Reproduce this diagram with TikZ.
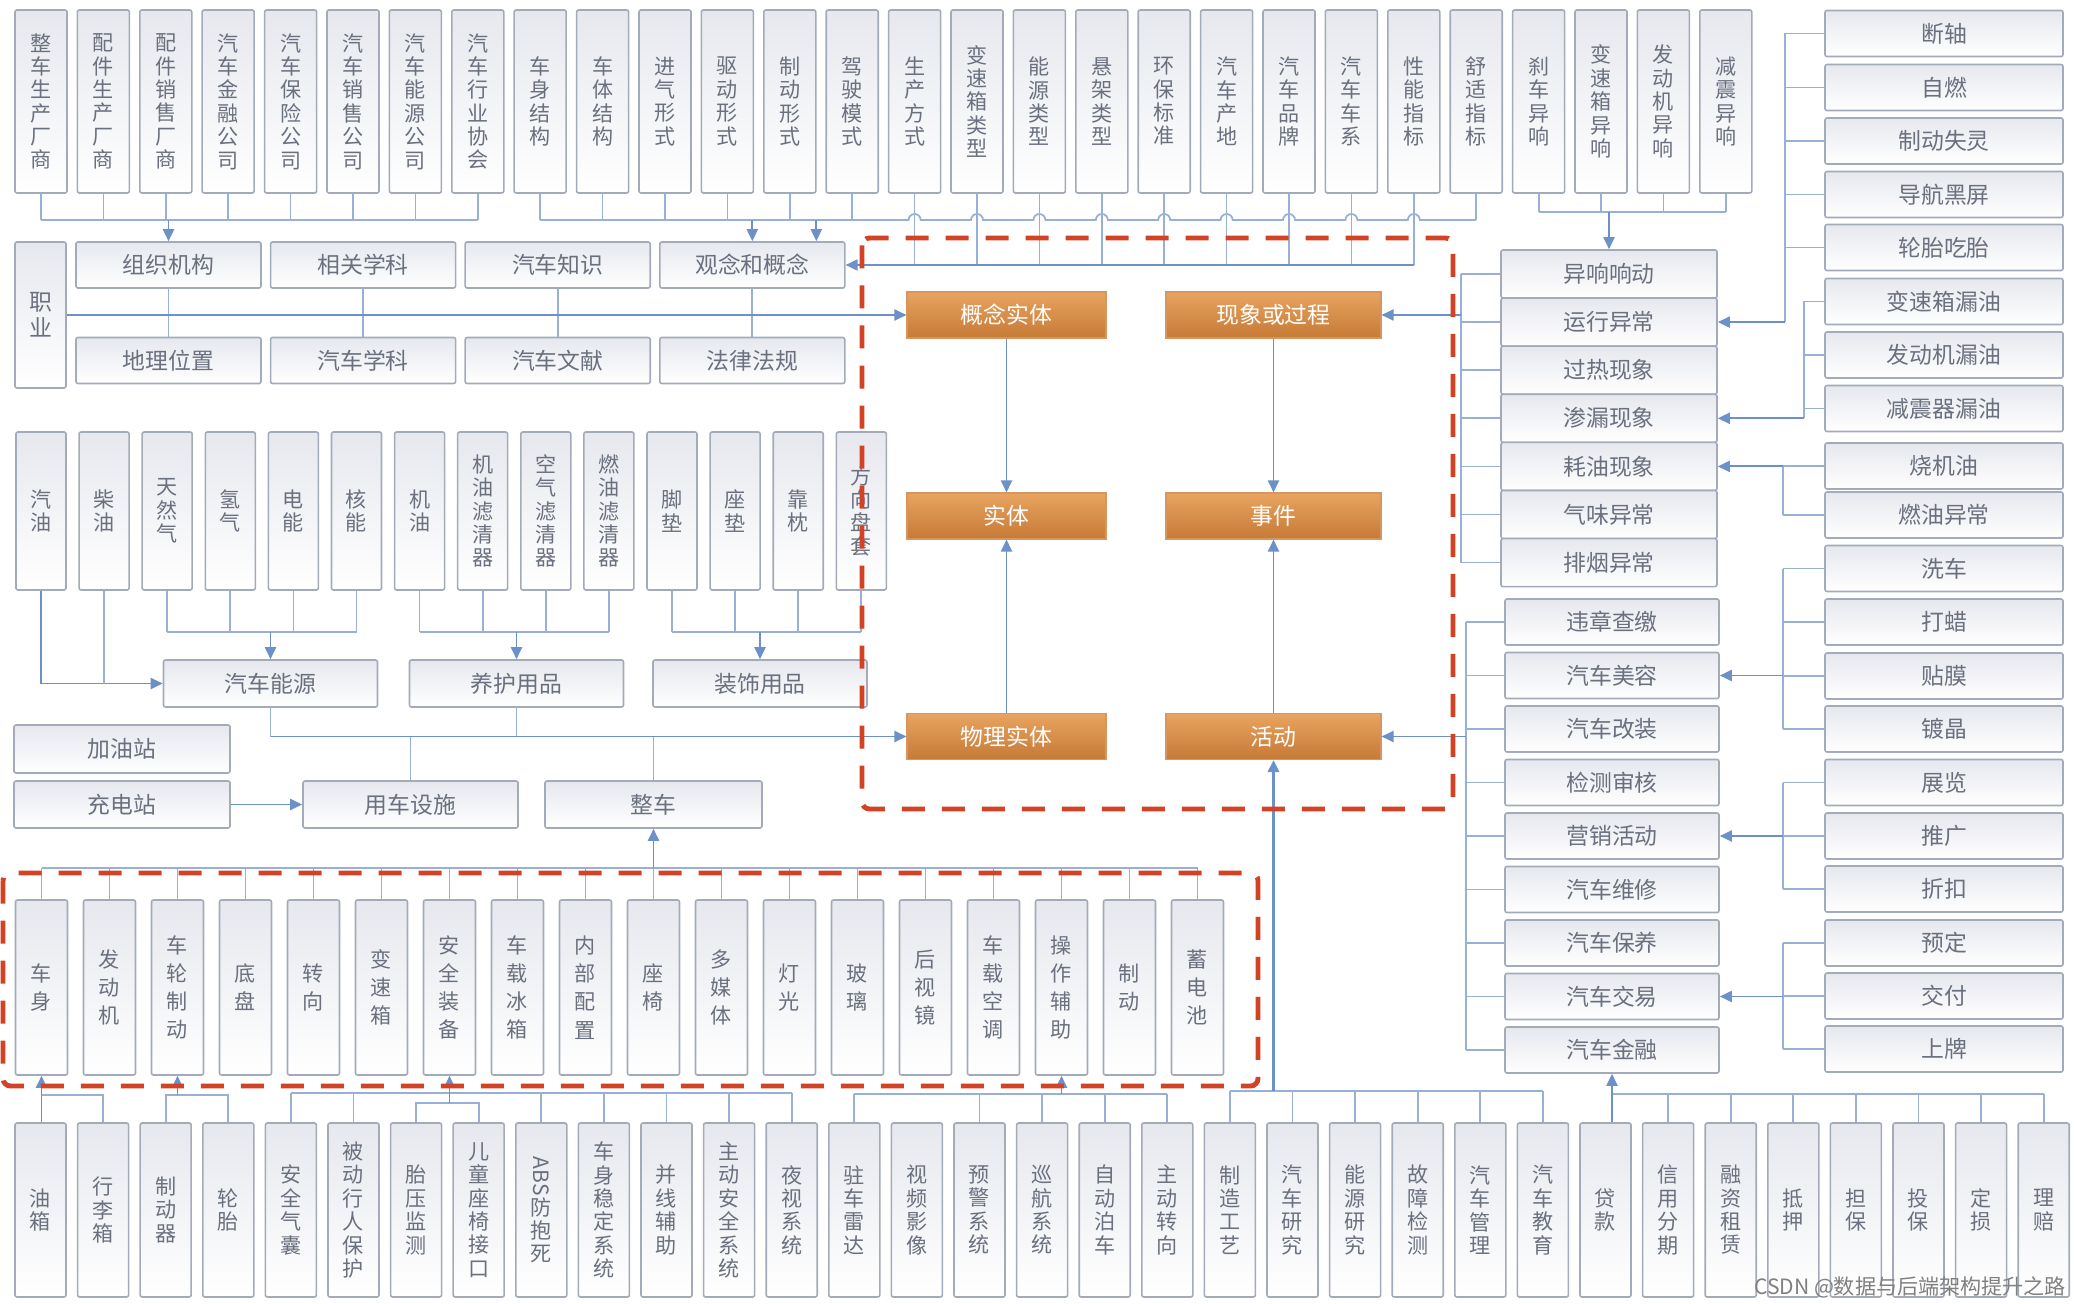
\documentclass[tikz,border=0pt]{standalone}
\usepackage{fontspec}
\setmainfont{Noto Sans CJK SC}
\usepackage{tikz}
\usetikzlibrary{arrows.meta,calc,positioning}

\definecolor{boxline}{RGB}{163,170,184}
\definecolor{boxtop}{RGB}{230,232,238}
\definecolor{boxtext}{RGB}{106,112,126}
\definecolor{linkblue}{RGB}{150,176,214}
\definecolor{arrowblue}{RGB}{108,144,200}
\definecolor{dashred}{RGB}{212,66,38}
\definecolor{orangetop}{RGB}{232,164,96}
\definecolor{orangebot}{RGB}{198,122,54}
\definecolor{orangeline}{RGB}{214,150,96}
\definecolor{markgray}{RGB}{128,128,128}

\newcommand{\stackfont}{\fontsize{12}{13.3}\selectfont}
\newcommand{\partfont}{\fontsize{12}{16}\selectfont}
\newcommand{\labelfont}{\fontsize{13}{15}\selectfont}

\tikzset{
  vbox/.style={draw=boxline, line width=0.9pt, rounded corners=0.4mm, top color=boxtop, bottom color=white,
    text=boxtext, font=\stackfont, align=center, inner sep=0pt},
  topbox/.style={vbox, minimum width=10.4mm, minimum height=36.6mm},
  srcbox/.style={vbox, minimum width=10mm, minimum height=31.6mm},
  partbox/.style={vbox, font=\partfont, minimum width=10.4mm, minimum height=35mm},
  lowbox/.style={vbox, minimum width=10.2mm, minimum height=34.8mm},
  hbox/.style={vbox, font=\labelfont, minimum height=9.2mm},
  obox/.style={draw=orangeline, line width=0.6pt, top color=orangetop, bottom color=orangebot,
    text=white, font=\labelfont, inner sep=0pt, minimum height=9.2mm},
  line/.style={draw=linkblue, line width=1pt},
  arr/.style={draw=arrowblue, line width=1.1pt, -{Triangle[length=2.4mm,width=2.2mm]}},
  dashbox/.style={draw=dashred, line width=2.8pt, dash pattern=on 4.6mm off 3.4mm, rounded corners=1.5mm}
}

\begin{document}
\begin{tikzpicture}[x=0.2mm,y=-0.2mm]
  \fill[white] (0,0) rectangle (2074,1304);
  \useasboundingbox (0,0) rectangle (2074,1304);
  % bus levels
  \coordinate (busA) at (0,220);
  \coordinate (busD) at (0,212);
  \coordinate (busF) at (0,632);
  \coordinate (busH) at (0,868);
  \coordinate (jb1) at (0,1095);
  \coordinate (jb2) at (0,1093);
  \coordinate (jb2b) at (0,1103);
  \coordinate (jb3) at (0,1094);
  \coordinate (jb4) at (0,1091);
  \coordinate (jb5) at (0,1094);
  \coordinate (vx1) at (1461,0);
  \coordinate (vx2) at (1466,0);
  \coordinate (bx1) at (1785,0);
  \coordinate (bx2) at (1804,0);
  \coordinate (bx3) at (1783,0);

  % top row
  \foreach \lab [count=\i from 0] in {整\\车\\生\\产\\厂\\商, 配\\件\\生\\产\\厂\\商, 配\\件\\销\\售\\厂\\商,
      汽\\车\\金\\融\\公\\司, 汽\\车\\保\\险\\公\\司, 汽\\车\\销\\售\\公\\司, 汽\\车\\能\\源\\公\\司,
      汽\\车\\行\\业\\协\\会, 车\\身\\结\\构, 车\\体\\结\\构, 进\\气\\形\\式, 驱\\动\\形\\式,
      制\\动\\形\\式, 驾\\驶\\模\\式, 生\\产\\方\\式, 变\\速\\箱\\类\\型, 能\\源\\类\\型,
      悬\\架\\类\\型, 环\\保\\标\\准, 汽\\车\\产\\地, 汽\\车\\品\\牌, 汽\\车\\车\\系,
      性\\能\\指\\标, 舒\\适\\指\\标, 刹\\车\\异\\响, 变\\速\\箱\\异\\响, 发\\动\\机\\异\\响,
      减\\震\\异\\响}
    \node[topbox] (t\i) at ({41+62.4*\i},101.5) {\lab};

  % knowledge boxes
  \node[vbox, font=\labelfont, minimum width=10.2mm, minimum height=29.2mm] (job) at (40.5,315) {职\\业};
  \foreach \lab [count=\j from 0] in {组织机构, 相关学科, 汽车知识, 观念和概念}
    \node[hbox, minimum width=37mm] (u\j) at ({168.5+194.6*\j},265) {\lab};
  \foreach \lab [count=\j from 0] in {地理位置, 汽车学科, 汽车文献, 法律法规}
    \node[hbox, minimum width=37mm] (l\j) at ({168.5+194.6*\j},360.5) {\lab};

  % supplies
  \foreach \lab [count=\i from 0] in {汽\\油, 柴\\油, 天\\然\\气, 氢\\气, 电\\能, 核\\能, 机\\油,
      机\\油\\滤\\清\\器, 空\\气\\滤\\清\\器, 燃\\油\\滤\\清\\器, 脚\\垫, 座\\垫, 靠\\枕, 方\\向\\盘\\套}
    \node[srcbox] (s\i) at ({41+63.1*\i},511) {\lab};
  \node[hbox, minimum width=42.8mm, minimum height=9.4mm] (en) at (270.5,683.5) {汽车能源};
  \node[hbox, minimum width=42.8mm, minimum height=9.4mm] (care) at (516.5,683.5) {养护用品};
  \node[hbox, minimum width=42.8mm, minimum height=9.4mm] (deco) at (760,683.5) {装饰用品};
  \node[hbox, minimum width=43.2mm, minimum height=9.6mm] (gas) at (122,749) {加油站};
  \node[hbox, minimum width=43.2mm, minimum height=9.4mm] (chg) at (122,804.5) {充电站};
  \node[hbox, minimum width=43mm, minimum height=9.4mm] (fac) at (410.5,804.5) {用车设施};
  \node[hbox, minimum width=43.4mm, minimum height=9.4mm] (car) at (653.5,804.5) {整车};

  % core concepts
  \node[obox, minimum width=39.8mm] (e1) at (1006.5,315) {概念实体};
  \node[obox, minimum width=39.8mm] (e2) at (1006.5,516) {实体};
  \node[obox, minimum width=39.8mm] (e3) at (1006.5,736.5) {物理实体};
  \node[obox, minimum width=43mm] (p1) at (1273.5,315) {现象或过程};
  \node[obox, minimum width=43mm] (p2) at (1273.5,516) {事件};
  \node[obox, minimum width=43mm] (p3) at (1273.5,736.5) {活动};

  % phenomena and activities
  \foreach \lab [count=\k from 0] in {异响响动, 运行异常, 过热现象, 渗漏现象, 耗油现象, 气味异常, 排烟异常}
    \node[hbox, minimum width=43.2mm, minimum height=9.6mm] (ab\k) at (1609,{274+48.1*\k}) {\lab};
  \foreach \lab [count=\k from 0] in {违章查缴, 汽车美容, 汽车改装, 检测审核, 营销活动, 汽车维修, 汽车保养, 汽车交易, 汽车金融}
    \node[hbox, minimum width=42.8mm] (m\k) at (1612,{622+53.5*\k}) {\lab};
  \foreach \lab/\yy [count=\k from 0] in {断轴/33.5, 自燃/87.5, 制动失灵/141, 导航黑屏/194.5, 轮胎吃胎/247.5,
      变速箱漏油/301.5, 发动机漏油/355, 减震器漏油/408.5, 烧机油/466, 燃油异常/515, 洗车/568.5,
      打蜡/622, 贴膜/676, 镀晶/729, 展览/782.5, 推广/836, 折扣/889, 预定/943, 交付/996, 上牌/1049}
    \node[hbox, minimum width=47.6mm] (r\k) at (1944,\yy) {\lab};

  % parts of the car
  \foreach \lab [count=\i from 0] in {车\\身, 发\\动\\机, 车\\轮\\制\\动, 底\\盘, 转\\向, 变\\速\\箱,
      安\\全\\装\\备, 车\\载\\冰\\箱, 内\\部\\配\\置, 座\\椅, 多\\媒\\体, 灯\\光, 玻\\璃,
      后\\视\\镜, 车\\载\\空\\调, 操\\作\\辅\\助, 制\\动, 蓄\\电\\池}
    \node[partbox] (c\i) at ({41.5+68*\i},987.5) {\lab};

  % bottom row
  \foreach \lab [count=\i from 0] in {油\\箱, 行\\李\\箱, 制\\动\\器, 轮\\胎, 安\\全\\气\\囊,
      被\\动\\行\\人\\保\\护, 胎\\压\\监\\测, 儿\\童\\座\\椅\\接\\口, {{\rotatebox{-90}{ABS}}\\防\\抱\\死},
      车\\身\\稳\\定\\系\\统, 并\\线\\辅\\助, 主\\动\\安\\全\\系\\统, 夜\\视\\系\\统, 驻\\车\\雷\\达,
      视\\频\\影\\像, 预\\警\\系\\统, 巡\\航\\系\\统, 自\\动\\泊\\车, 主\\动\\转\\向, 制\\造\\工\\艺,
      汽\\车\\研\\究, 能\\源\\研\\究, 故\\障\\检\\测, 汽\\车\\管\\理, 汽\\车\\教\\育, 贷\\款,
      信\\用\\分\\期, 融\\资\\租\\赁, 抵\\押, 担\\保, 投\\保, 定\\损, 理\\赔}
    \node[lowbox] (b\i) at ({40.5+62.6*\i},1210) {\lab};

  % top row links
  \foreach \i in {0,...,7} \draw[line] (t\i.south) -- (t\i.south |- busA);
  \draw[line] (t0.south |- busA) -- (t7.south |- busA);
  \draw[arr] (u0.north |- busA) -- (u0.north);
  \foreach \i in {8,9,10,11,12,13,23} \draw[line] (t\i.south) -- (t\i.south |- busA);
  \foreach \i in {14,...,22} \draw[line] (t\i.south) -- (t\i.south |- u3.east);
  \draw[line] (t8.south |- busA) foreach \i in {14,...,22} {
      -- ($(t\i.south |- busA)+(-6,0)$) arc[start angle=180, end angle=0, radius=1.2mm] }
      -- (t23.south |- busA);
  \coordinate (u3b) at ($(u3.north)+(64,0)$);
  \draw[arr] (u3.north |- busA) -- (u3.north);
  \draw[arr] (u3b |- busA) -- (u3b);
  \draw[arr] (t22.south |- u3.east) -- (u3.east);
  \foreach \i in {24,...,27} \draw[line] (t\i.south) -- (t\i.south |- busD);
  \draw[line] (t24.south |- busD) -- (t27.south |- busD);
  \draw[arr] (ab0.north |- busD) -- (ab0.north);

  % knowledge links
  \foreach \j in {0,...,3} \draw[line] (u\j.south) -- (l\j.north);
  \draw[arr] (job.east |- e1.west) -- (e1.west);

  % supply links
  \draw[arr] (s0.south) |- (en.west);
  \draw[line] (s1.south) -- (s1.south |- en.west);
  \foreach \i in {2,...,13} \draw[line] (s\i.south) -- (s\i.south |- busF);
  \draw[line] (s2.south |- busF) -- (s5.south |- busF);
  \draw[line] (s6.south |- busF) -- (s9.south |- busF);
  \draw[line] (s10.south |- busF) -- (s13.south |- busF);
  \draw[arr] (en.north |- busF) -- (en.north);
  \draw[arr] (care.north |- busF) -- (care.north);
  \draw[arr] (deco.north |- busF) -- (deco.north);
  \draw[line] (en.south) -- (en.south |- e3.west);
  \draw[line] (care.south) -- (care.south |- e3.west);
  \draw[line] (fac.north) -- (fac.north |- e3.west);
  \draw[line] (car.north) -- (car.north |- e3.west);
  \draw[arr] (en.south |- e3.west) -- (e3.west);
  \draw[arr] (chg.east) -- (fac.west);

  % core links
  \draw[arr] (e1.south) -- (e2.north);
  \draw[arr] (e3.north) -- (e2.south);
  \draw[arr] (p1.south) -- (p2.north);
  \draw[arr] (p3.north) -- (p2.south);

  % phenomena and activities links
  \foreach \k in {0,...,6} \draw[line] (ab\k.west) -- (ab\k.west -| vx1);
  \draw[line] (ab0.west -| vx1) -- (ab6.west -| vx1);
  \draw[arr] (p1.east -| vx1) -- (p1.east);
  \foreach \k in {0,...,8} \draw[line] (m\k.west) -- (m\k.west -| vx2);
  \draw[line] (m0.west -| vx2) -- (m8.west -| vx2);
  \draw[arr] (p3.east -| vx2) -- (p3.east);
  \foreach \k in {0,...,4} \draw[line] (r\k.west) -- (r\k.west -| bx1);
  \draw[line] (r0.west -| bx1) -- (ab1.east -| bx1);
  \draw[arr] (ab1.east -| bx1) -- (ab1.east);
  \foreach \k in {5,6,7} \draw[line] (r\k.west) -- (r\k.west -| bx2);
  \draw[line] (r5.west -| bx2) -- (ab3.east -| bx2);
  \draw[arr] (ab3.east -| bx2) -- (ab3.east);
  \foreach \k in {8,...,19} \draw[line] (r\k.west) -- (r\k.west -| bx3);
  \draw[line] (r8.west -| bx3) -- (r9.west -| bx3);
  \draw[line] (r10.west -| bx3) -- (r13.west -| bx3);
  \draw[line] (r14.west -| bx3) -- (r16.west -| bx3);
  \draw[line] (r17.west -| bx3) -- (r19.west -| bx3);
  \draw[arr] (ab4.east -| bx3) -- (ab4.east);
  \draw[arr] (m1.east -| bx3) -- (m1.east);
  \draw[arr] (m4.east -| bx3) -- (m4.east);
  \draw[arr] (m7.east -| bx3) -- (m7.east);

  % parts links
  \foreach \i in {0,...,17} \draw[line] (c\i.north) -- (c\i.north |- busH);
  \draw[line] (c0.north |- busH) -- (c17.north |- busH);
  \draw[arr] (car.south |- busH) -- (car.south);

  % bottom row links
  \draw[arr] (c0.south |- b0.north) -- (c0.south);
  \draw[line] (b1.north) |- (c0.south |- jb1);
  \draw[line] (b2.north) |- (b3.north |- jb1) -- (b3.north);
  \draw[arr] (c2.south |- jb1) -- (c2.south);
  \foreach \i in {4,5,8,9,10,11,12} \draw[line] (b\i.north) -- (b\i.north |- jb2);
  \draw[line] (b4.north |- jb2) -- (b12.north |- jb2);
  \draw[line] (b6.north) |- (b7.north |- jb2b) -- (b7.north);
  \draw[arr] (c6.south |- jb2b) -- (c6.south);
  \foreach \i in {13,15,16,17,18} \draw[line] (b\i.north) -- (b\i.north |- jb3);
  \draw[line] (b13.north |- jb3) -- (b18.north |- jb3);
  \draw[arr] (c15.south |- jb3) -- (c15.south);
  \foreach \i in {19,...,24} \draw[line] (b\i.north) -- (b\i.north |- jb4);
  \draw[line] (b19.north |- jb4) -- (b24.north |- jb4);
  \draw[arr, line width=1.6pt] (p3.south |- jb4) -- (p3.south);
  \foreach \i in {26,...,32} \draw[line] (b\i.north) -- (b\i.north |- jb5);
  \draw[line] (m8.south |- jb5) -- (b32.north |- jb5);
  \draw[arr] (m8.south |- b25.north) -- (m8.south);

  % dashed frames
  \draw[dashbox] (862,238) rectangle (1453,809);
  \draw[dashbox] (3,873) rectangle (1258,1086);

  \node[font=\fontsize{12}{14}\selectfont, text=markgray] (mark) at (1910,1287) {CSDN @数据与后端架构提升之路};
\end{tikzpicture}
\end{document}
